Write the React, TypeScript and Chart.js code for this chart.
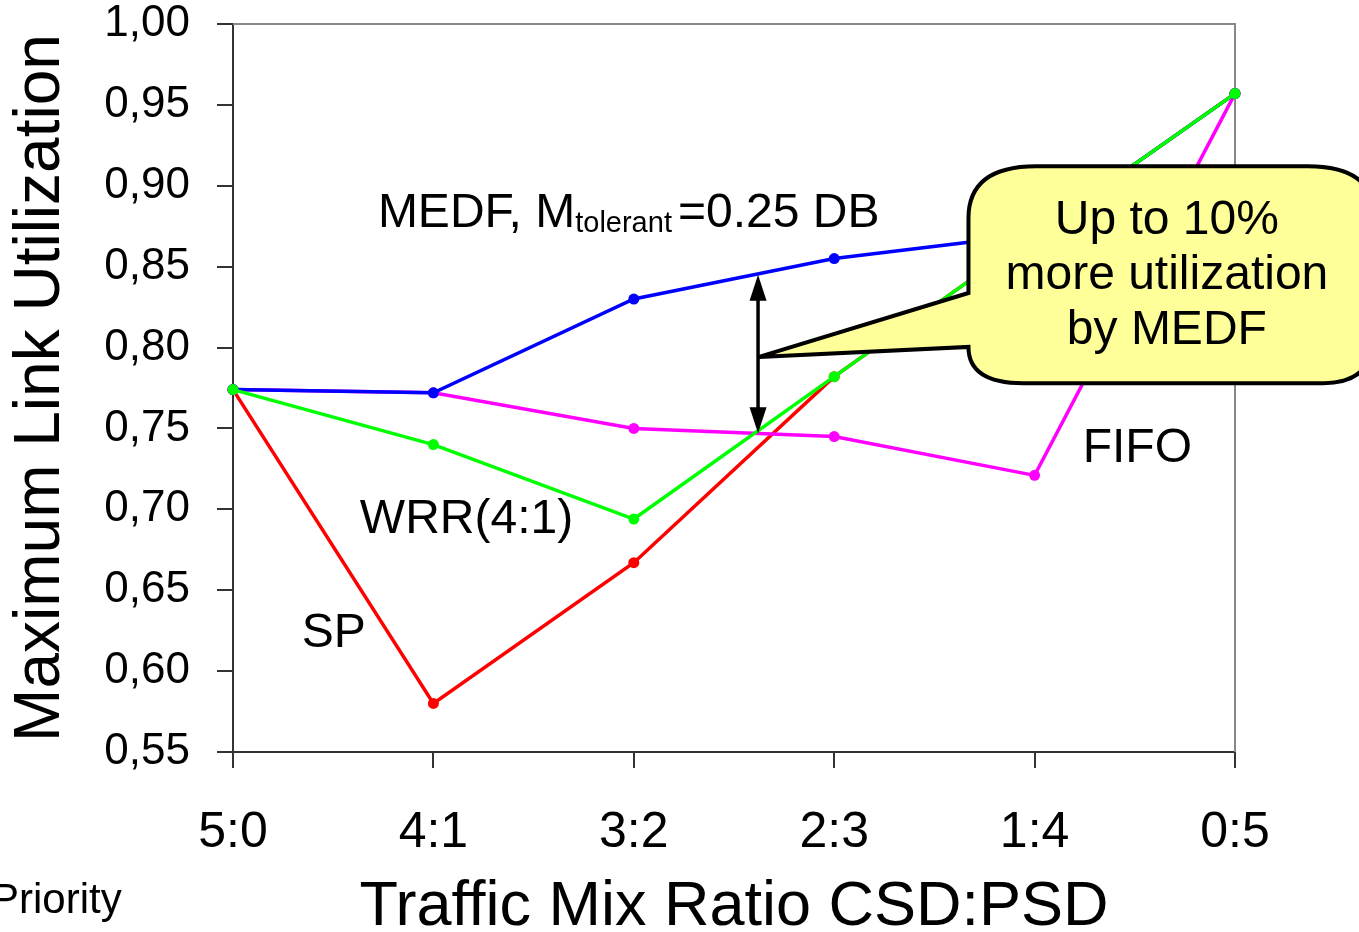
import React, { useEffect, useRef } from "react";
import { Chart, registerables } from "chart.js";

Chart.register(...registerables);

const categories = ["5:0", "4:1", "3:2", "2:3", "1:4", "0:5"];
const yTicks = [0.55, 0.6, 0.65, 0.7, 0.75, 0.8, 0.85, 0.9, 0.95, 1.0];
const spValues = [0.774, 0.58, 0.667, 0.782, 0.87, 0.957];
const fifoValues = [0.774, 0.772, 0.75, 0.745, 0.721, 0.957];
const medfValues = [0.774, 0.772, 0.83, 0.855, 0.87, 0.957];
const wrrValues = [0.774, 0.74, 0.694, 0.782, 0.87, 0.957];
const calloutLines = ["Up to 10%", "more utilization", "by MEDF"];

const FONT = "'Liberation Sans', Arial, sans-serif";

const toPoints = (vals: number[]) => vals.map((v, i) => ({ x: i, y: v }));

const overlayPlugin = {
  id: "overlay",
  beforeDatasetsDraw(chart: any) {
    const { ctx, chartArea } = chart;
    ctx.save();
    ctx.strokeStyle = "#888888";
    ctx.lineWidth = 2;
    ctx.beginPath();
    ctx.moveTo(chartArea.left, chartArea.top);
    ctx.lineTo(chartArea.right, chartArea.top);
    ctx.lineTo(chartArea.right, chartArea.bottom);
    ctx.stroke();
    ctx.restore();
  },
  afterDraw(chart: any) {
    const { ctx } = chart;
    const xs = chart.scales.x;
    const ys = chart.scales.y;
    const px = (v: number) => xs.getPixelForValue(v);
    const py = (v: number) => ys.getPixelForValue(v);
    ctx.save();

    // double arrow
    const ax = px(2.62);
    const aTop = py(0.845);
    const aBot = py(0.747);
    ctx.strokeStyle = "#000";
    ctx.fillStyle = "#000";
    ctx.lineWidth = 3.5;
    ctx.beginPath();
    ctx.moveTo(ax, aTop + 20);
    ctx.lineTo(ax, aBot - 20);
    ctx.stroke();
    const head = (tipY: number, dir: number) => {
      ctx.beginPath();
      ctx.moveTo(ax, tipY);
      ctx.lineTo(ax - 8.5, tipY + dir * 26);
      ctx.lineTo(ax + 8.5, tipY + dir * 26);
      ctx.closePath();
      ctx.fill();
    };
    head(aTop, 1);
    head(aBot, -1);

    // callout
    const cl = px(3.67);
    const cr = px(5.7);
    const ct = py(0.912);
    const cb = py(0.778);
    const r = 52;
    const tipX = px(2.625);
    const tipY = py(0.7942);
    const pTop = py(0.8337);
    const pBot = py(0.8004);
    ctx.beginPath();
    ctx.moveTo(cl, pTop);
    ctx.lineTo(tipX, tipY);
    ctx.lineTo(cl, pBot);
    ctx.quadraticCurveTo(cl, cb, cl + 55, cb);
    ctx.lineTo(cr - r, cb);
    ctx.quadraticCurveTo(cr, cb, cr, cb - r);
    ctx.lineTo(cr, ct + r);
    ctx.quadraticCurveTo(cr, ct, cr - r * 1.3, ct);
    ctx.lineTo(cl + r * 1.3, ct);
    ctx.quadraticCurveTo(cl, ct, cl, ct + r);
    ctx.closePath();
    ctx.fillStyle = "#FFFF99";
    ctx.fill();
    ctx.lineWidth = 4;
    ctx.lineJoin = "miter";
    ctx.miterLimit = 2;
    ctx.strokeStyle = "#000";
    ctx.stroke();

    ctx.fillStyle = "#000";
    ctx.textBaseline = "alphabetic";
    ctx.textAlign = "center";
    ctx.font = `48px ${FONT}`;
    const ccx = px(4.66);
    calloutLines.forEach((t, i) => {
      ctx.fillText(t, ccx, py(0.8705) + i * 55);
    });

    // series labels
    ctx.textAlign = "left";
    ctx.font = `48px ${FONT}`;
    const medfA = "MEDF, M";
    const lx = px(0.723);
    const ly = py(0.8745);
    ctx.fillText(medfA, lx, ly);
    let w = ctx.measureText(medfA).width;
    ctx.font = `29px ${FONT}`;
    ctx.fillText("tolerant", lx + w, ly + 5);
    w += ctx.measureText("tolerant").width + 6;
    ctx.font = `48px ${FONT}`;
    ctx.fillText("=0.25 DB", lx + w, ly);

    ctx.fillText("WRR(4:1)", px(0.633), py(0.6854));
    ctx.fillText("SP", px(0.343), py(0.615));
    ctx.fillText("FIFO", px(4.24), py(0.7295));

    ctx.font = `42px ${FONT}`;
    ctx.fillText("Priority", -9, chart.height - 19);
    ctx.restore();
  },
};

export default function App() {
  const ref = useRef<HTMLCanvasElement>(null);
  useEffect(() => {
    document.body.style.margin = "0";
    const canvas = ref.current!;
    const mk = (label: string, vals: number[], color: string) => ({
      label,
      data: toPoints(vals),
      borderColor: color,
      backgroundColor: color,
      borderWidth: 3.5,
      pointRadius: 5.5,
      pointBorderWidth: 0,
      pointHoverRadius: 5.5,
      tension: 0,
      clip: false as any,
    });
    const chart = new Chart(canvas, {
      type: "line",
      data: {
        datasets: [
          mk("WRR(4:1)", wrrValues, "#00FF00"),
          mk("MEDF", medfValues, "#0000FF"),
          mk("FIFO", fifoValues, "#FF00FF"),
          mk("SP", spValues, "#FF0000"),
        ] as any,
      },
      options: {
        animation: false,
        responsive: false,
        devicePixelRatio: 1,
        layout: { padding: { top: 24, right: 124, left: 0, bottom: 0 } },
        plugins: { legend: { display: false }, tooltip: { enabled: false } },
        scales: {
          x: {
            type: "linear",
            min: 0,
            max: categories.length - 1,
            afterFit: (s: any) => {
              s.height = 180;
              s.paddingLeft = 0;
              s.paddingRight = 0;
            },
            afterBuildTicks: (s: any) => {
              s.ticks = categories.map((_, i) => ({ value: i }));
            },
            ticks: {
              callback: (v: any) => categories[v as number] ?? "",
              font: { family: FONT, size: 50, lineHeight: 1 },
              color: "#000",
              padding: 40,
              maxRotation: 0,
              autoSkip: false,
            },
            grid: { drawOnChartArea: false, drawTicks: true, tickLength: 16, color: "#333", lineWidth: 2 },
            border: { display: true, color: "#333", width: 2 },
            title: {
              display: true,
              text: "Traffic Mix Ratio CSD:PSD",
              font: { family: FONT, size: 63, lineHeight: 0.76 },
              color: "#000",
              padding: { top: 0, bottom: 0 },
            },
          },
          y: {
            type: "linear",
            min: 0.55,
            max: 1.0,
            afterFit: (s: any) => {
              s.width = 233;
              s.paddingTop = 0;
              s.paddingBottom = 0;
            },
            afterBuildTicks: (s: any) => {
              s.ticks = yTicks.map((v) => ({ value: v }));
            },
            ticks: {
              callback: (v: any) => Number(v).toFixed(2).replace(".", ","),
              font: { family: FONT, size: 44, lineHeight: 1 },
              color: "#000",
              padding: 27,
            },
            grid: { drawOnChartArea: false, drawTicks: true, tickLength: 16, color: "#333", lineWidth: 2 },
            border: { display: true, color: "#333", width: 2 },
            title: {
              display: true,
              text: "Maximum Link Utilization",
              font: { family: FONT, size: 64, lineHeight: 1.2 },
              color: "#000",
              padding: { top: 3, bottom: 0 },
            },
          },
        },
      },
      plugins: [overlayPlugin],
    });
    return () => chart.destroy();
  }, []);
  return <canvas ref={ref} width={1359} height={932} style={{ display: "block", width: 1359, height: 932 }} />;
}
